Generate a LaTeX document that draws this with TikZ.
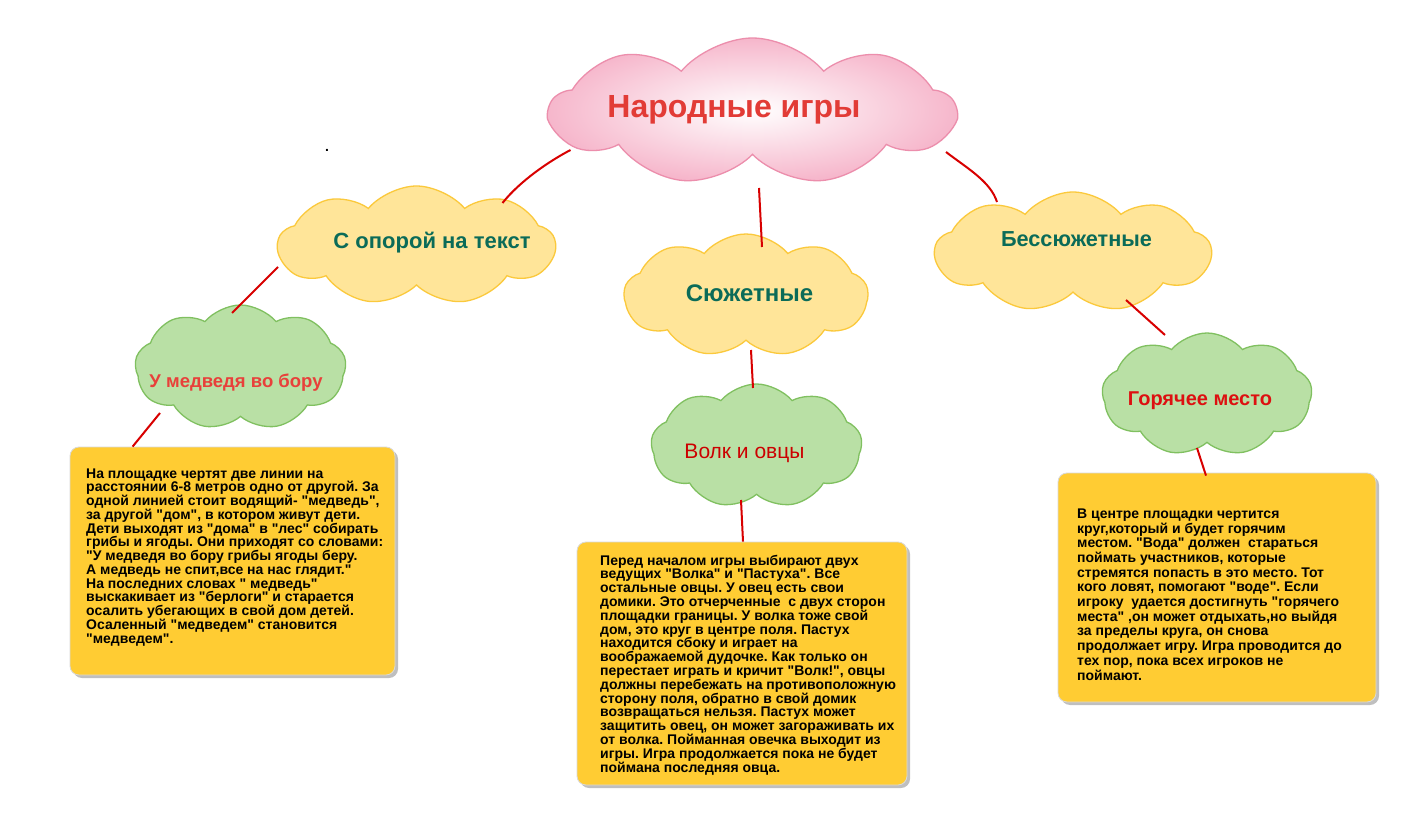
\documentclass[tikz,border=0pt]{standalone}
\usepackage{fontspec}
\setmainfont{Liberation Sans}[Ligatures=TeXOff]
\frenchspacing
\usetikzlibrary{shapes.symbols,shadows,calc}
\definecolor{pinkedge}{HTML}{EC8EAC}
\definecolor{pinkfill}{HTML}{F6B6CB}
\definecolor{yelfill}{HTML}{FFE599}
\definecolor{yeledge}{HTML}{FBC93C}
\definecolor{grnfill}{HTML}{B9E0A5}
\definecolor{grnedge}{HTML}{80C060}
\definecolor{boxfill}{HTML}{FFCC33}
\definecolor{linkred}{HTML}{D80000}
\definecolor{headteal}{HTML}{0B6B58}
\definecolor{titlered}{HTML}{E23B36}
\definecolor{subred}{HTML}{E8403A}
\definecolor{hotred}{HTML}{DD1010}
\definecolor{wolfred}{HTML}{CC0000}
\tikzset{
  cloudbase/.style={cloud, cloud ignores aspect, inner sep=0pt, line width=1.3pt},
  pinkcloud/.style={cloudbase, cloud puffs=9, cloud puff arc=100, draw=pinkedge, inner color=white, outer color=pinkfill},
  yelcloud/.style={cloudbase, cloud puffs=9, cloud puff arc=100, draw=yeledge, fill=yelfill},
  grncloud/.style={cloudbase, cloud puffs=9, cloud puff arc=100, draw=grnedge, fill=grnfill},
  infobox/.style={draw=gray!30, line width=0.8pt, rounded corners=9pt, fill=boxfill, inner sep=0pt,
    drop shadow={shadow xshift=3pt, shadow yshift=-3pt, fill=black, opacity=0.25}},
  link/.style={draw=linkred, line width=2pt},
  boxtext/.style={anchor=base west, inner sep=0pt, align=left, text=black},
  headtext/.style={anchor=base, inner sep=0pt, font=\bfseries\fontsize{22}{26}\selectfont, text=headteal},
}
\begin{document}
\begin{tikzpicture}[x=1pt,y=-1pt]
\useasboundingbox[fill=white] (0,0) rectangle (1422,818);

% clouds
\node[pinkcloud, minimum width=405pt, minimum height=147pt] (main) at (752.5,111.5) {};
\node[yelcloud, minimum width=277pt, minimum height=119pt] (opora) at (416.5,245.5) {};
\node[yelcloud, minimum width=244pt, minimum height=123pt] (syuzh) at (746,295.5) {};
\node[yelcloud, minimum width=276pt, minimum height=120pt] (bess) at (1073,252) {};
\node[grncloud, minimum width=211pt, minimum height=125pt] (medv) at (240.5,367.5) {};
\node[grncloud, minimum width=211pt, minimum height=124pt] (volk) at (756.5,446) {};
\node[grncloud, minimum width=210pt, minimum height=123pt] (gor) at (1207,394.5) {};

% info boxes
\node[infobox, minimum width=325pt, minimum height=228pt] (box1) at (232.5,561) {};
\node[infobox, minimum width=330pt, minimum height=243pt] (box2) at (742,663.5) {};
\node[infobox, minimum width=318pt, minimum height=229pt] (box3) at (1217,587.5) {};

% titles
\node[anchor=base, inner sep=0pt, font=\bfseries\fontsize{32}{38}\selectfont, text=titlered] (t0) at (734,118) {Народные игры};
\node[headtext] (t1) at (432,249) {С опорой на текст};
\node[headtext, font=\bfseries\fontsize{24}{28}\selectfont] (t2) at (749.5,302) {Сюжетные};
\node[headtext, font=\bfseries\fontsize{21.7}{25}\selectfont] (t3) at (1076.5,247) {Бессюжетные};
\node[anchor=base, inner sep=0pt, font=\bfseries\fontsize{18.5}{22}\selectfont, text=subred] (t4) at (236,387) {У медведя во бору};
\node[anchor=base, inner sep=0pt, font=\fontsize{21}{25}\selectfont, text=wolfred] (t5) at (744.5,458) {Волк и овцы};
\node[anchor=base, inner sep=0pt, font=\bfseries\fontsize{20}{24}\selectfont, text=hotred] (t6) at (1200,405) {Горячее место};
\node[anchor=base, inner sep=0pt, font=\bfseries\fontsize{14}{16}\selectfont] (dot) at (327,152) {.};

% connectors
\draw[link] ([shift={(-182,38.5)}]main.center) .. controls ([shift={(-204,50)}]main.center) and ([shift={(-233,70)}]main.center) .. ([shift={(86,-42.5)}]opora.center);
\draw[link] ([shift={(6.5,76.5)}]main.center) -- ([shift={(16,-48.5)}]syuzh.center);
\draw[link] ([shift={(193.5,40.5)}]main.center) .. controls ([shift={(215,57)}]main.center) and ([shift={(238,70)}]main.center) .. ([shift={(-76,-50)}]bess.center);
\draw[link] ([shift={(-138.5,21.5)}]opora.center) -- ([shift={(-8.5,-54.5)}]medv.center);
\draw[link] ([shift={(-80.5,45.5)}]medv.center) -- ([shift={(63,0)}]box1.north west);
\draw[link] ([shift={(5,54.5)}]syuzh.center) -- ([shift={(-3.5,-58)}]volk.center);
\draw[link] ([shift={(-15.5,54)}]volk.center) -- ([shift={(1,0)}]box2.north);
\draw[link] ([shift={(53,48)}]bess.center) -- ([shift={(-42,-59.5)}]gor.center);
\draw[link] ([shift={(-10,53.5)}]gor.center) -- ([shift={(-11,3)}]box3.north);

% box texts (anchored at the baseline of the last line)
\node[boxtext, font=\bfseries\fontsize{14}{13.75}\selectfont] (b1) at (86,643) {На площадке чертят две линии на\\
расстоянии 6-8 метров одно от другой. За\\
одной линией стоит водящий- "медведь",\\
за другой "дом", в котором живут дети.\\
Дети выходят из "дома" в "лес" собирать\\
грибы и ягоды. Они приходят со словами:\\
"У медведя во бору грибы ягоды беру.\\
А медведь не спит,все на нас глядит."\\
На последних словах " медведь"\\
выскакивает из "берлоги" и старается\\
осалить убегающих в свой дом детей.\\
Осаленный "медведем" становится\\
"медведем".};

\node[boxtext, font=\bfseries\fontsize{14}{13.8}\selectfont] (b2) at (600,772) {Перед началом игры выбирают двух\\
ведущих "Волка" и "Пастуха". Все\\
остальные овцы. У овец есть свои\\
домики. Это отчерченные~ с двух сторон\\
площадки границы. У волка тоже свой\\
дом, это круг в центре поля. Пастух\\
находится сбоку и играет на\\
воображаемой дудочке. Как только он\\
перестает играть и кричит "Волк!", овцы\\
должны перебежать на противоположную\\
сторону поля, обратно в свой домик\\
возвращаться нельзя. Пастух может\\
защитить овец, он может загораживать их\\
от волка. Пойманная овечка выходит из\\
игры. Игра продолжается пока не будет\\
поймана последняя овца.};

\node[boxtext, font=\bfseries\fontsize{14}{14.7}\selectfont] (b3) at (1077,680) {В центре площадки чертится\\
круг,который и будет горячим\\
местом. "Вода" должен~ стараться\\
поймать участников, которые\\
стремятся попасть в это место. Тот\\
кого ловят, помогают "воде". Если\\
игроку~ удается достигнуть "горячего\\
места" ,он может отдыхать,но выйдя\\
за пределы круга, он снова\\
продолжает игру. Игра проводится до\\
тех пор, пока всех игроков не\\
поймают.};
\end{tikzpicture}
\end{document}
